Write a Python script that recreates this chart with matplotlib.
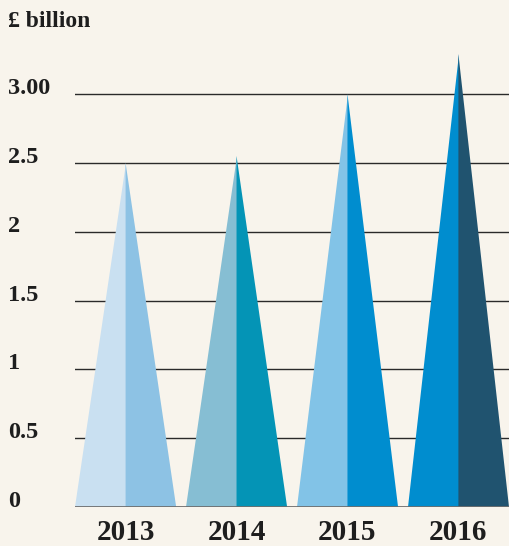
import matplotlib
matplotlib.use("Agg")
import matplotlib.pyplot as plt
from matplotlib import transforms

# data
years = ["2013", "2014", "2015", "2016"]
values = [2.50, 2.55, 3.00, 3.29]
left_colors = ["#c9e0f1", "#86bed3", "#82c3e7", "#008dcf"]
right_colors = ["#8dc2e4", "#0494b6", "#008dcf", "#20536f"]
grid_vals = [0.5, 1, 1.5, 2, 2.5, 3]
ytick_vals = [0, 0.5, 1, 1.5, 2, 2.5, 3]
ytick_labels = ["0", "0.5", "1", "1.5", "2", "2.5", "3.00"]

bg = "#f8f4ec"
half = 0.456

plt.rcParams["font.family"] = ["Liberation Serif", "DejaVu Serif"]

fig = plt.figure(figsize=(5.09, 5.46), dpi=100, facecolor=bg)
ax = fig.add_axes([75 / 509, 39 / 546, 1 - 75 / 509, 468 / 546])
ax.set_facecolor(bg)

for g in grid_vals:
    ax.axhline(g, color="#2a2a2a", lw=1.0, zorder=1)

for i, v in enumerate(values):
    ax.fill([i - half, i + 0.004, i + 0.004], [0, 0, v], facecolor=left_colors[i],
            edgecolor="none", zorder=2)
    ax.fill([i, i + half, i], [0, 0, v], facecolor=right_colors[i],
            edgecolor="none", zorder=3)
    ax.text(i, -0.24, years[i], ha="center", va="baseline", fontsize=21,
            fontweight="bold", color="#1e1e1e", clip_on=False)

ax.axhline(0, color="#6e6e6e", lw=2.0, zorder=4)

ax.set_xlim(-half, len(values) - 1 + half)
ax.set_ylim(0, 3.4)
ax.set_xticks([])
ax.set_yticks([])
for s in ax.spines.values():
    s.set_visible(False)

trans = transforms.blended_transform_factory(fig.transFigure, ax.transData)
for v, lab in zip(ytick_vals, ytick_labels):
    ax.text(8 / 509, v, lab, transform=trans, ha="left", va="baseline",
            fontsize=17.5, fontweight="bold", color="#1e1e1e", clip_on=False)

fig.text(8 / 509, 1 - 27 / 546, "£ billion", ha="left", va="baseline",
         fontsize=17, fontweight="bold", color="#1e1e1e")

fig.savefig("out.png", dpi=100, facecolor=bg)
